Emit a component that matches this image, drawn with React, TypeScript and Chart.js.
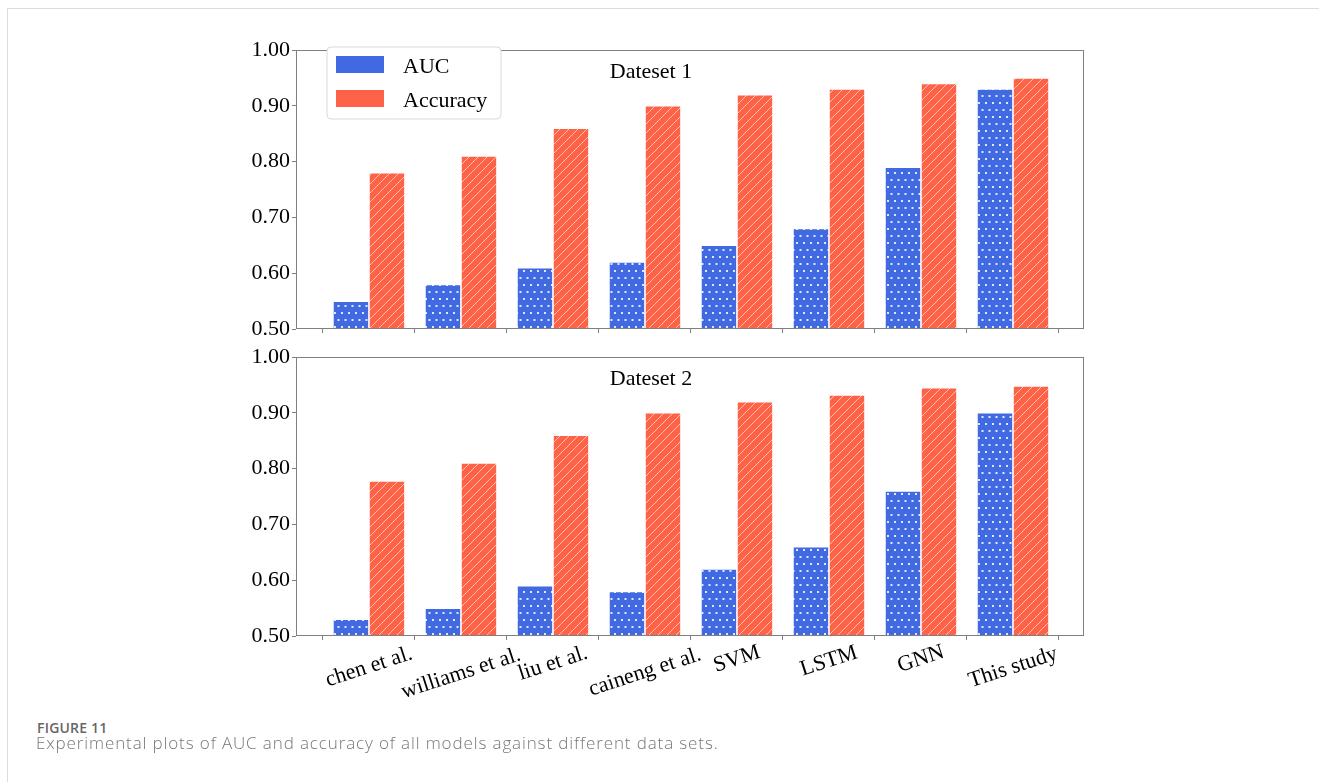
import React, { useEffect, useRef } from "react";
import { Chart, registerables } from "chart.js";

Chart.register(...registerables);

// ---------- data ----------
const categories = [
  "chen et al.",
  "williams et al.",
  "liu et al.",
  "caineng et al.",
  "SVM",
  "LSTM",
  "GNN",
  "This study",
];
const aucDataset1 = [0.55, 0.58, 0.61, 0.62, 0.65, 0.68, 0.79, 0.93];
const accDataset1 = [0.78, 0.81, 0.86, 0.9, 0.92, 0.93, 0.94, 0.95];
const aucDataset2 = [0.53, 0.55, 0.59, 0.58, 0.62, 0.66, 0.76, 0.9];
const accDataset2 = [0.778, 0.81, 0.86, 0.9, 0.92, 0.932, 0.945, 0.948];
const yTickValues = [0.5, 0.6, 0.7, 0.8, 0.9, 1.0];
const seriesNames = ["AUC", "Accuracy"];
const panelTitles = ["Dateset 1", "Dateset 2"];
const figureLabel = "FIGURE 11";
const figureCaption =
  "Experimental plots of AUC and accuracy of all models against different data sets.";

// ---------- style ----------
const BLUE = "#4169E1";
const ORANGE = "#FF6347";
const SPINE = "#808080";
const SERIF = "'Liberation Serif', 'Times New Roman', serif";
const CANVAS_W = 900;
const PLOT_LEFT = 96;
const PLOT_RIGHT_PAD = 16;
const PLOT_TOP = 20;
const PLOT_BOTTOM = 299;
const X_MIN = -0.793;
const X_MAX = 7.772;
const LABEL_ANGLE = (18 * Math.PI) / 180;

function makeDotPattern(ctx: CanvasRenderingContext2D) {
  const c = document.createElement("canvas");
  c.width = 7;
  c.height = 14;
  const g = c.getContext("2d")!;
  g.fillStyle = BLUE;
  g.fillRect(0, 0, 7, 14);
  g.fillStyle = "rgba(255,255,255,0.85)";
  g.fillRect(1, 2, 2, 2);
  g.fillRect(4.5, 9, 2, 2);
  return ctx.createPattern(c, "repeat")!;
}

function makeHatchPattern(ctx: CanvasRenderingContext2D) {
  const s = 9;
  const c = document.createElement("canvas");
  c.width = s;
  c.height = s;
  const g = c.getContext("2d")!;
  g.fillStyle = ORANGE;
  g.fillRect(0, 0, s, s);
  g.strokeStyle = "rgba(255,255,255,0.6)";
  g.lineWidth = 1;
  g.beginPath();
  g.moveTo(-1, s + 1);
  g.lineTo(s + 1, -1);
  g.moveTo(-2, 2);
  g.lineTo(2, -2);
  g.moveTo(s - 2, s + 2);
  g.lineTo(s + 2, s - 2);
  g.stroke();
  return ctx.createPattern(c, "repeat")!;
}

function buildChart(
  canvas: HTMLCanvasElement,
  auc: number[],
  acc: number[],
  title: string,
  isTop: boolean,
  canvasH: number
) {
  const ctx = canvas.getContext("2d")!;
  const dot = makeDotPattern(ctx);
  const hatch = makeHatchPattern(ctx);

  const panelPlugin = {
    id: "panelDecor",
    afterDatasetsDraw(chart: any) {
      const { ctx: c, chartArea: a } = chart;
      c.save();
      c.strokeStyle = SPINE;
      c.lineWidth = 1;
      c.strokeRect(a.left + 0.5, a.top + 0.5, a.right - a.left - 1, a.bottom - a.top - 1);
      c.restore();
    },
    afterDraw(chart: any) {
      const { ctx: c, chartArea: a, scales } = chart;
      c.save();
      // panel title
      c.fillStyle = "#000";
      c.font = `22px ${SERIF}`;
      c.textAlign = "center";
      c.textBaseline = "alphabetic";
      c.fillText(title, a.left + 355, a.top + 28);

      if (isTop) {
        // legend
        const bx = a.left + 31;
        const by = a.top - 3;
        const bw = 174;
        const bh = 72;
        const r = 4;
        c.beginPath();
        c.moveTo(bx + r, by);
        c.lineTo(bx + bw - r, by);
        c.quadraticCurveTo(bx + bw, by, bx + bw, by + r);
        c.lineTo(bx + bw, by + bh - r);
        c.quadraticCurveTo(bx + bw, by + bh, bx + bw - r, by + bh);
        c.lineTo(bx + r, by + bh);
        c.quadraticCurveTo(bx, by + bh, bx, by + bh - r);
        c.lineTo(bx, by + r);
        c.quadraticCurveTo(bx, by, bx + r, by);
        c.closePath();
        c.fillStyle = "#ffffff";
        c.fill();
        c.strokeStyle = "#d9d9d9";
        c.lineWidth = 1;
        c.stroke();
        const colors = [BLUE, ORANGE];
        const patchY = [9, 43];
        const textY = [26, 60];
        for (let k = 0; k < 2; k++) {
          c.fillStyle = colors[k];
          c.fillRect(bx + 9, by + patchY[k], 48, 17);
          c.fillStyle = "#000";
          c.textAlign = "left";
          c.font = `22px ${SERIF}`;
          c.fillText(seriesNames[k], bx + 76, by + textY[k]);
        }
      } else {
        // rotated category labels
        const xs = scales.x;
        c.fillStyle = "#000";
        c.font = `22px ${SERIF}`;
        c.textAlign = "center";
        c.textBaseline = "middle";
        categories.forEach((lab, i) => {
          const px = xs.getPixelForValue(i);
          const w = c.measureText(lab).width;
          const cy = a.bottom + 14 + 0.19 * w;
          c.save();
          c.translate(px, cy);
          c.rotate(-LABEL_ANGLE);
          c.fillText(lab, 0, 0);
          c.restore();
        });
      }
      c.restore();
    },
  };

  const xAxisHeight = canvasH - PLOT_BOTTOM;

  return new Chart(ctx, {
    type: "bar",
    data: {
      datasets: [
        {
          label: seriesNames[0],
          data: auc.map((v, i) => ({ x: i, y: v })),
          backgroundColor: dot,
          borderColor: "rgba(255,255,255,0.55)",
          borderWidth: 0.8,
          base: 0.5,
          categoryPercentage: 0.783,
          barPercentage: 1.0,
        } as any,
        {
          label: seriesNames[1],
          data: acc.map((v, i) => ({ x: i, y: v })),
          backgroundColor: hatch,
          borderColor: "rgba(255,255,255,0.55)",
          borderWidth: 0.8,
          base: 0.5,
          categoryPercentage: 0.783,
          barPercentage: 1.0,
        } as any,
      ],
    },
    options: {
      responsive: false,
      animation: false,
      events: [],
      layout: { padding: { top: PLOT_TOP, right: PLOT_RIGHT_PAD, left: 0, bottom: 0 } },
      plugins: {
        legend: { display: false },
        tooltip: { enabled: false },
        title: { display: false },
      },
      scales: {
        x: {
          type: "linear",
          min: X_MIN,
          max: X_MAX,
          offset: false,
          ticks: { display: false },
          grid: {
            display: true,
            drawOnChartArea: false,
            drawTicks: true,
            tickLength: 4,
            color: SPINE,
          },
          border: { display: false },
          afterBuildTicks: (axis: any) => {
            axis.ticks = categories.map((_, i) => ({ value: i }));
          },
          afterFit: (axis: any) => {
            axis.height = xAxisHeight;
          },
        },
        y: {
          type: "linear",
          min: 0.5,
          max: 1.0,
          ticks: {
            color: "#000",
            font: { family: SERIF, size: 22 },
            padding: 2,
            callback: (v: any) => Number(v).toFixed(2),
          },
          grid: {
            display: true,
            drawOnChartArea: false,
            drawTicks: true,
            tickLength: 4,
            color: SPINE,
          },
          border: { display: false },
          afterBuildTicks: (axis: any) => {
            axis.ticks = yTickValues.map((v) => ({ value: v }));
          },
          afterFit: (axis: any) => {
            axis.width = PLOT_LEFT;
          },
        },
      },
    } as any,
    plugins: [panelPlugin],
  });
}

export default function App() {
  const topRef = useRef<HTMLCanvasElement>(null);
  const botRef = useRef<HTMLCanvasElement>(null);
  const TOP_H = 330;
  const BOT_H = 410;

  useEffect(() => {
    const charts: Chart[] = [];
    if (topRef.current)
      charts.push(buildChart(topRef.current, aucDataset1, accDataset1, panelTitles[0], true, TOP_H));
    if (botRef.current)
      charts.push(buildChart(botRef.current, aucDataset2, accDataset2, panelTitles[1], false, BOT_H));
    return () => charts.forEach((c) => c.destroy());
  }, []);

  return (
    <div
      style={{
        position: "absolute",
        left: 0,
        top: 0,
        width: 1319,
        height: 782,
        overflow: "hidden",
        background: "#fff",
      }}
    >
      <div
        style={{
          position: "absolute",
          left: 7,
          top: 8,
          width: 1340,
          height: 820,
          borderTop: "1px solid #dcdcdc",
          borderLeft: "1px solid #dcdcdc",
        }}
      />
      <canvas
        ref={topRef}
        width={CANVAS_W}
        height={TOP_H}
        style={{ position: "absolute", left: 200, top: 30, width: CANVAS_W, height: TOP_H }}
      />
      <canvas
        ref={botRef}
        width={CANVAS_W}
        height={BOT_H}
        style={{ position: "absolute", left: 200, top: 337, width: CANVAS_W, height: BOT_H }}
      />
      <div
        style={{
          position: "absolute",
          left: 37,
          top: 721,
          fontFamily: "'Open Sans', sans-serif",
          fontSize: 14,
          fontWeight: 600,
          lineHeight: 1,
          letterSpacing: 0.2,
          color: "#666",
          whiteSpace: "nowrap",
        }}
      >
        {figureLabel}
      </div>
      <div
        style={{
          position: "absolute",
          left: 36,
          top: 734,
          fontFamily: "'Open Sans', sans-serif",
          fontSize: 17,
          fontWeight: 300,
          lineHeight: 1,
          letterSpacing: 0.88,
          color: "#777",
          whiteSpace: "nowrap",
        }}
      >
        {figureCaption}
      </div>
    </div>
  );
}
